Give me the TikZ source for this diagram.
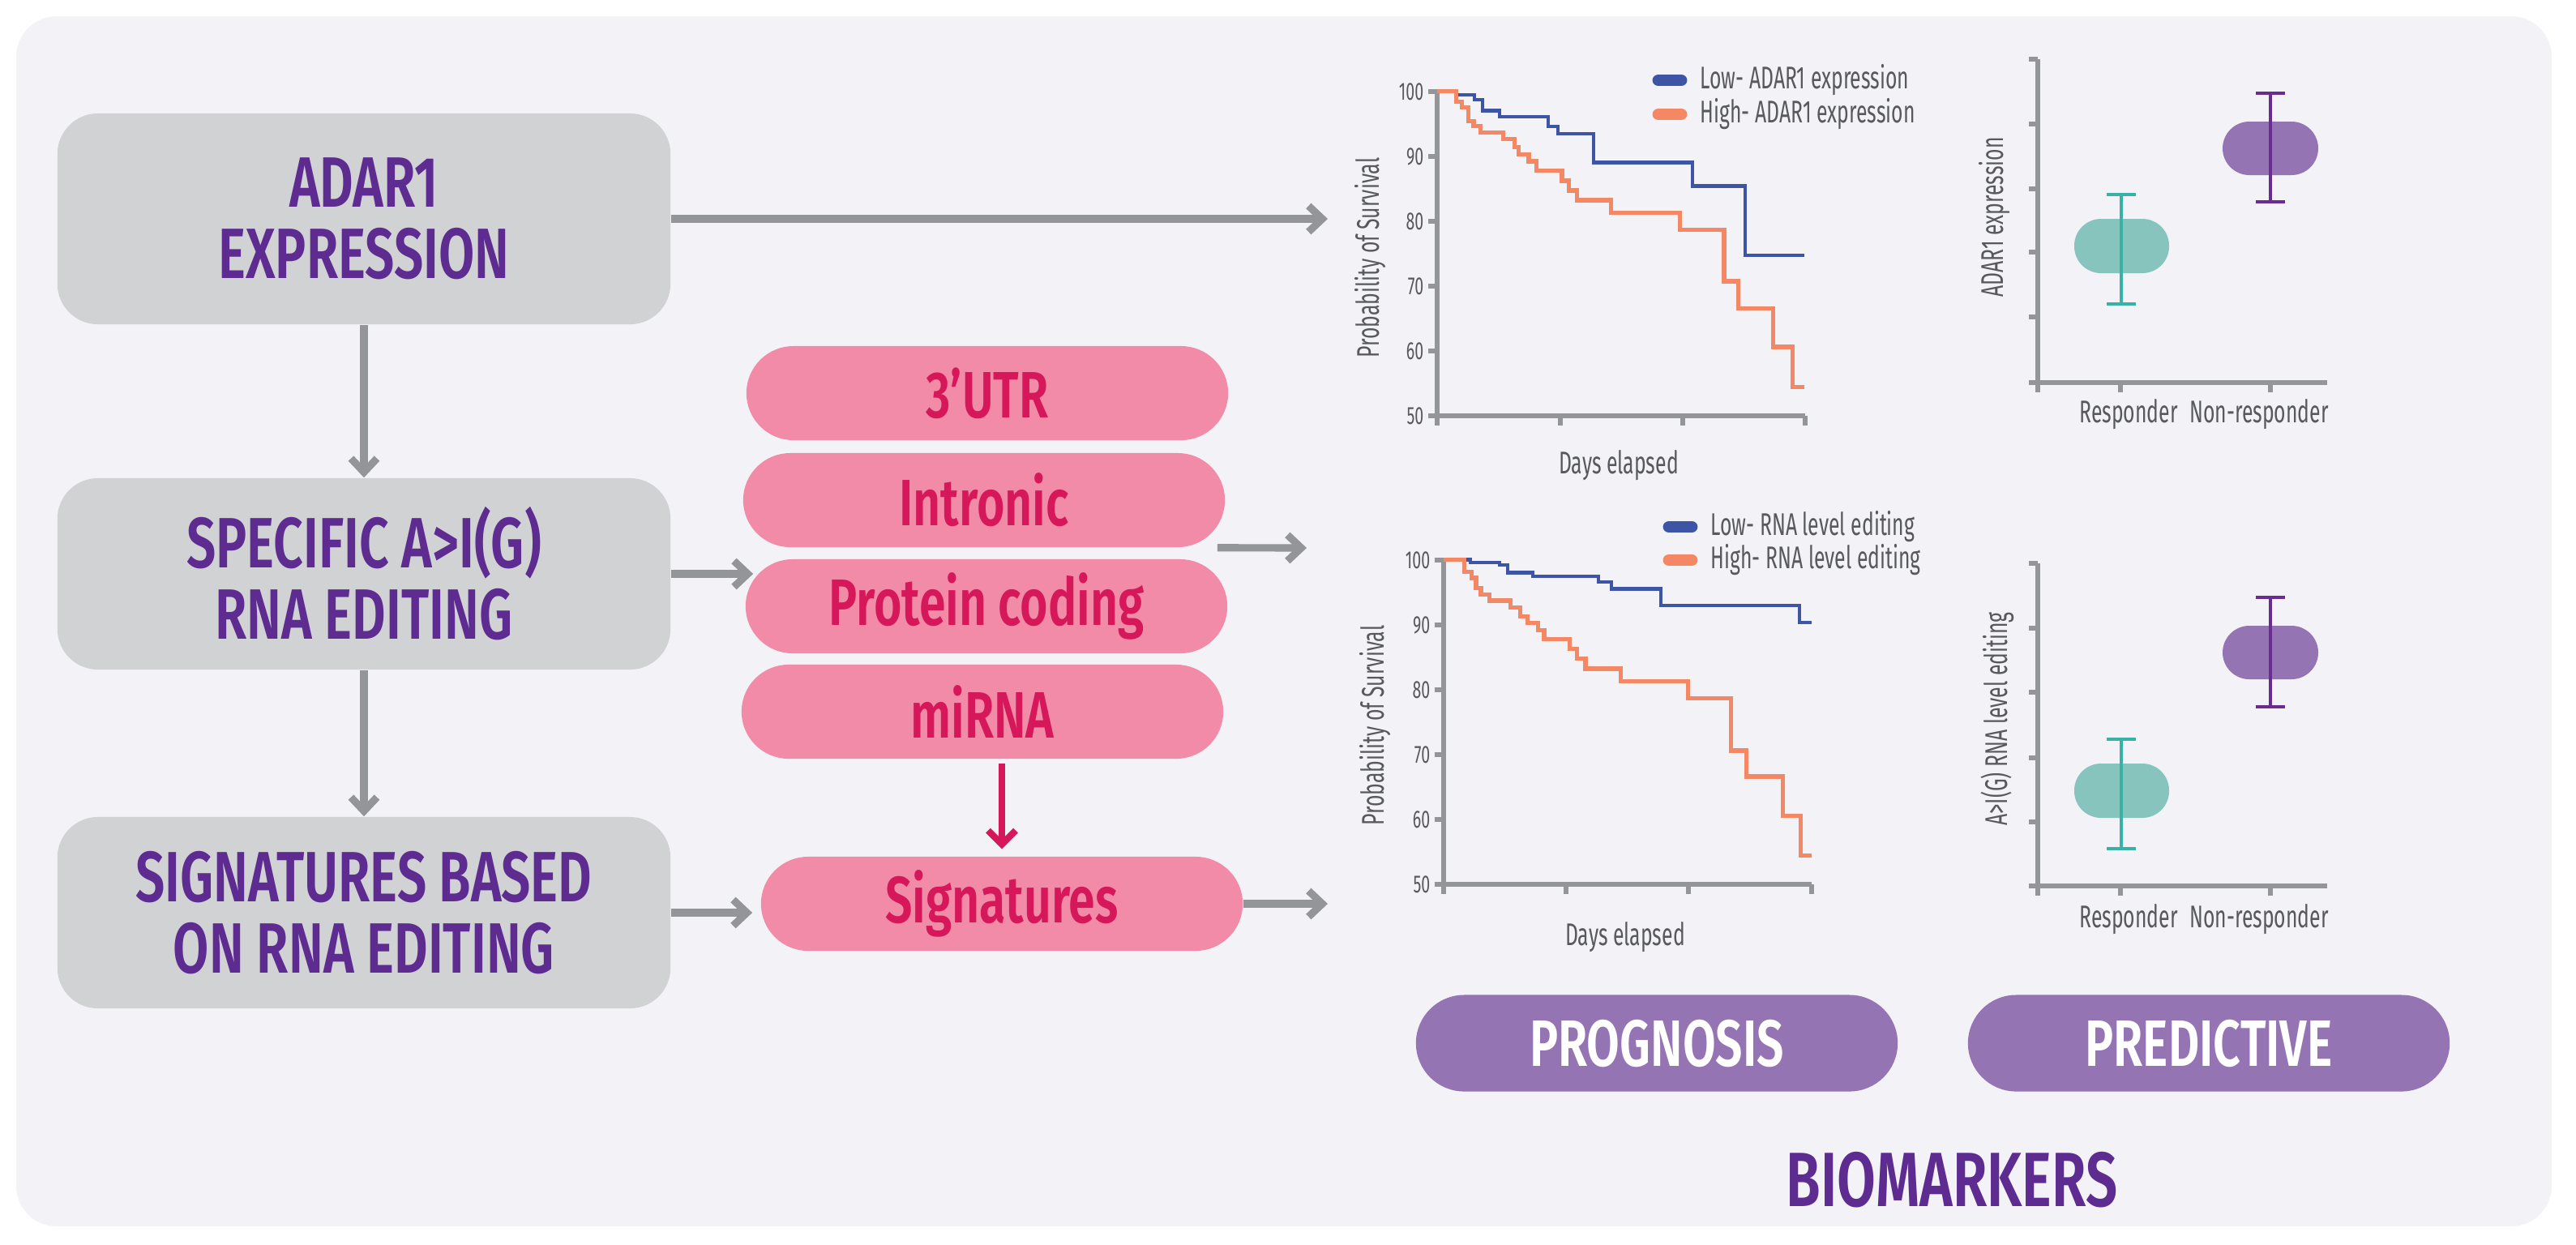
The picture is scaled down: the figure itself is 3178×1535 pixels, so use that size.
\documentclass[tikz,border=0pt]{standalone}
\usepackage{fontspec}
\setmainfont{Fira Sans}[FakeStretch=0.72]
\newfontfamily\semibold{Fira Sans SemiBold}[FakeStretch=0.73]
\newfontfamily\plotfont{Fira Sans}[FakeStretch=0.64]
\usetikzlibrary{arrows.meta,positioning}

\definecolor{panelbg}{RGB}{243,242,247}
\definecolor{boxgrey}{RGB}{209,210,212}
\definecolor{titleviolet}{RGB}{94,43,145}
\definecolor{pillpink}{RGB}{242,139,168}
\definecolor{pinkink}{RGB}{214,24,90}
\definecolor{arrowgrey}{RGB}{147,149,152}
\definecolor{lilac}{RGB}{148,116,179}
\definecolor{tealfill}{RGB}{134,196,189}
\definecolor{tealbar}{RGB}{56,178,164}
\definecolor{violetbar}{RGB}{106,44,145}
\definecolor{kmblue}{RGB}{62,84,165}
\definecolor{kmorange}{RGB}{244,135,100}
\definecolor{labelgrey}{RGB}{88,89,91}

\begin{document}
\begin{tikzpicture}[x=0.01cm, y=-0.01cm,
    greybox/.style={fill=boxgrey, rounded corners=0.5cm, minimum width=7.56cm, minimum height=2.36cm,
      align=center, text=titleviolet, font=\semibold\fontsize{25}{25}\selectfont},
    pinkpill/.style={fill=pillpink, rounded corners=0.58cm, minimum width=5.94cm, minimum height=1.16cm,
      text=pinkink, font=\semibold\fontsize{23}{23}\selectfont},
    lilacpill/.style={fill=lilac, rounded corners=0.595cm, minimum width=5.94cm, minimum height=1.19cm,
      text=white, font=\semibold\fontsize{23}{23}\selectfont},
    greyarrow/.style={draw=arrowgrey, line width=2.6pt, -{Straight Barb[length=1.7mm,width=3.2mm]}},
    pinkarrow/.style={draw=pinkink, line width=2.3pt, -{Straight Barb[length=1.7mm,width=3.4mm]}},
    axisline/.style={draw=arrowgrey, line width=1.5pt},
    plottext/.style={text=labelgrey, inner sep=0pt, font=\plotfont\fontsize{11}{12}\selectfont},
    ticktext/.style={text=labelgrey, inner sep=0pt, anchor=east, font=\plotfont\fontsize{8.7}{9}\selectfont},
    kmlow/.style={draw=kmblue, line width=1.2pt},
    kmhigh/.style={draw=kmorange, line width=1.5pt},
    lowkey/.style={draw=kmblue, line width=4.2pt, line cap=round},
    highkey/.style={draw=kmorange, line width=4.2pt, line cap=round},
    tealbox/.style={fill=tealfill, rounded corners=0.33cm},
    violetbox/.style={fill=lilac, rounded corners=0.33cm},
    tealerr/.style={draw=tealbar, line width=1.3pt},
    violeterr/.style={draw=violetbar, line width=1.3pt}]

  \useasboundingbox (0,0) rectangle (3178,1535);
  \fill[panelbg, rounded corners=0.5cm] (20,20) rectangle (3148,1513);

  % left column
  \node[greybox, minimum height=2.6cm] at (449,270)  (adar)   {ADAR1\\EXPRESSION};
  \node[greybox] at (449,708)  (editing) {SPECIFIC A>I(G)\\RNA EDITING};
  \node[greybox] at (449,1126) (sigbased) {SIGNATURES BASED\\ON RNA EDITING};

  % editing classes
  \node[pinkpill] at (1218,485)  (utr)    {3’UTR};
  \node[pinkpill] at (1214,617)  (intr)   {Intronic};
  \node[pinkpill] at (1217,748)  (prot)   {Protein coding};
  \node[pinkpill] at (1212,878)  (mirna)  {miRNA};
  \node[pinkpill] at (1236,1115) (sig)    {Signatures};

  \coordinate (kmAin) at (1638,270);
  \coordinate (kmBin) at (1612,676);
  \coordinate (kmBsig) at (1638,1115);

  \draw[greyarrow] (adar.east) -- (kmAin);
  \draw[greyarrow] (adar.south) -- (editing.north);
  \draw[greyarrow] (editing.south) -- (sigbased.north);
  \draw[greyarrow] (editing.east) -- ([xshift=1mm]editing.east -| prot.west);
  \draw[greyarrow] (sigbased.east) -- ([xshift=-1mm]sigbased.east -| sig.west);
  \draw[greyarrow] ([xshift=-1mm]intr.south east) -- (kmBin);
  \draw[greyarrow] (sig.east) -- (kmBsig);
  \draw[pinkarrow] ([yshift=-0.05cm]sig.north |- mirna.south) -- ([yshift=0.09cm]sig.north);

  % survival plot, ADAR1 expression
  \draw[axisline] (1773,113) -- (1773,525);
  \draw[axisline] (1762,513) -- (2227,513);
  \draw[axisline] (1762,113) -- (1773,113) (1762,193) -- (1773,193) (1762,273) -- (1773,273)
    (1762,353) -- (1773,353) (1762,433) -- (1773,433)
    (1925,513) -- (1925,525) (2076,513) -- (2076,525) (2227,513) -- (2227,525);
  \node[ticktext] at (1757,113) (ta100) {100};
  \node[ticktext] at (1757,193) (ta90)  {90};
  \node[ticktext] at (1757,273) (ta80)  {80};
  \node[ticktext] at (1757,353) (ta70)  {70};
  \node[ticktext] at (1757,433) (ta60)  {60};
  \node[ticktext] at (1757,513) (ta50)  {50};
  \node[plottext, rotate=90] at (1691,318) (yla) {Probability of Survival};
  \node[plottext] at (1997,574) (xla) {Days elapsed};
  \draw[lowkey]  (2046,99) -- (2074,99);
  \draw[highkey] (2046,141) -- (2074,141);
  \node[plottext, anchor=west] at (2097,99)  (lowa)  {Low- ADAR1 expression};
  \node[plottext, anchor=west] at (2097,141) (higha) {High- ADAR1 expression};
  \begin{scope}[shift={(1773,913)}, x=4.54cm, y=0.08cm]
    \draw[kmlow] plot[const plot] coordinates {(0,100) (0.051,99.4) (0.101,98.7) (0.124,97.0)
      (0.169,96.1) (0.301,94.6) (0.328,93.4) (0.424,89.0) (0.694,85.4) (0.837,74.7) (0.997,74.7)};
    \draw[kmhigh] plot[const plot] coordinates {(0,100) (0.051,98.4) (0.067,97.5) (0.084,95.4)
      (0.099,94.6) (0.118,93.6) (0.180,92.6) (0.210,91.4) (0.221,90.3) (0.249,89.2) (0.270,87.8)
      (0.339,86.2) (0.357,84.7) (0.379,83.2) (0.472,81.3) (0.660,78.6) (0.779,70.7) (0.817,66.5)
      (0.913,60.6) (0.966,54.4) (0.997,54.4)};
  \end{scope}

  % survival plot, RNA level editing
  \draw[axisline] (1781,691) -- (1781,1103);
  \draw[axisline] (1770,1091) -- (2235,1091);
  \draw[axisline] (1770,691) -- (1781,691) (1770,771) -- (1781,771) (1770,851) -- (1781,851)
    (1770,931) -- (1781,931) (1770,1011) -- (1781,1011)
    (1932,1091) -- (1932,1103) (2083,1091) -- (2083,1103) (2235,1091) -- (2235,1103);
  \node[ticktext] at (1765,691)  (tb100) {100};
  \node[ticktext] at (1765,771)  (tb90)  {90};
  \node[ticktext] at (1765,851)  (tb80)  {80};
  \node[ticktext] at (1765,931)  (tb70)  {70};
  \node[ticktext] at (1765,1011) (tb60)  {60};
  \node[ticktext] at (1765,1091) (tb50)  {50};
  \node[plottext, rotate=90] at (1697,895) (ylb) {Probability of Survival};
  \node[plottext] at (2005,1156) (xlb) {Days elapsed};
  \draw[lowkey]  (2059,650) -- (2087,650);
  \draw[highkey] (2059,691) -- (2087,691);
  \node[plottext, anchor=west] at (2110,650) (lowb)  {Low- RNA level editing};
  \node[plottext, anchor=west] at (2110,691) (highb) {High- RNA level editing};
  \begin{scope}[shift={(1781,1491)}, x=4.54cm, y=0.08cm]
    \draw[kmlow] plot[const plot] coordinates {(0,100) (0.073,99.6) (0.152,99.2) (0.174,98.0)
      (0.242,97.4) (0.421,96.6) (0.455,95.5) (0.590,92.9) (0.966,90.3) (1.0,90.3)};
    \draw[kmhigh] plot[const plot] coordinates {(0,100) (0.056,98.1) (0.076,97.2) (0.088,95.6)
      (0.101,94.6) (0.124,93.7) (0.182,92.6) (0.208,91.3) (0.227,90.3) (0.256,89.1) (0.273,87.8)
      (0.343,86.3) (0.362,84.8) (0.385,83.2) (0.481,81.3) (0.663,78.6) (0.781,70.6) (0.822,66.6)
      (0.921,60.5) (0.970,54.4) (1.0,54.4)};
  \end{scope}

  % responder plot, ADAR1 expression
  \draw[axisline] (2514,73) -- (2514,484);
  \draw[axisline] (2503,472) -- (2871,472);
  \draw[axisline] (2503,73) -- (2514,73) (2503,153) -- (2514,153) (2503,233) -- (2514,233)
    (2503,311) -- (2514,311) (2503,391) -- (2514,391)
    (2616,472) -- (2616,484) (2801,472) -- (2801,484);
  \fill[tealbox]   (2559,270) rectangle (2676,337);
  \fill[violetbox] (2742,150) rectangle (2860,216);
  \draw[tealerr]   (2599,240) -- (2635,240) (2617,240) -- (2617,375) (2599,375) -- (2635,375);
  \draw[violeterr] (2783,115) -- (2819,115) (2801,115) -- (2801,249) (2783,249) -- (2819,249);
  \node[plottext, rotate=90] at (2461,268) (ylc) {ADAR1 expression};
  \node[plottext] at (2626,511) (respc)  {Responder};
  \node[plottext] at (2787,511) (nonrc)  {Non-responder};

  % responder plot, RNA level editing
  \draw[axisline] (2514,695) -- (2514,1105);
  \draw[axisline] (2503,1093) -- (2871,1093);
  \draw[axisline] (2503,695) -- (2514,695) (2503,775) -- (2514,775) (2503,854) -- (2514,854)
    (2503,935) -- (2514,935) (2503,1014) -- (2514,1014)
    (2616,1093) -- (2616,1105) (2801,1093) -- (2801,1105);
  \fill[tealbox]   (2559,942) rectangle (2676,1009);
  \fill[violetbox] (2742,772) rectangle (2860,838);
  \draw[tealerr]   (2599,912) -- (2635,912) (2617,912) -- (2617,1047) (2599,1047) -- (2635,1047);
  \draw[violeterr] (2783,737) -- (2819,737) (2801,737) -- (2801,872) (2783,872) -- (2819,872);
  \node[plottext, rotate=90] at (2464,887) (yld) {A>I(G) RNA level editing};
  \node[plottext] at (2626,1134) (respd) {Responder};
  \node[plottext] at (2787,1134) (nonrd) {Non-responder};

  % biomarker types
  \node[lilacpill] at (2044,1287) (prog) {PROGNOSIS};
  \node[lilacpill] at (2725,1287) (pred) {PREDICTIVE};
  \node[text=titleviolet, font=\semibold\fontsize{27}{27}\selectfont] at (2408,1456) (biom) {BIOMARKERS};
\end{tikzpicture}
\end{document}
